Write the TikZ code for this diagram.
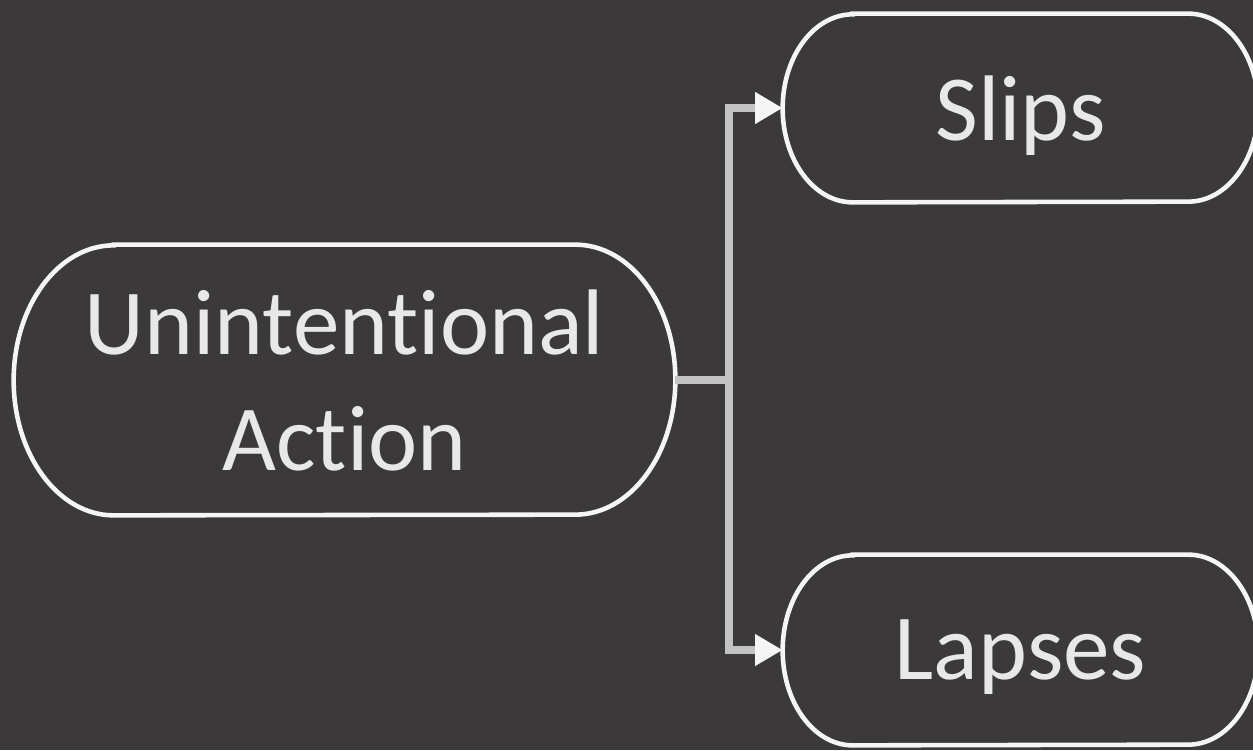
\documentclass[tikz,border=0pt]{standalone}
\usepackage{fontspec}
\setmainfont{Carlito}[Ligatures={NoCommon,NoContextual}]
\usetikzlibrary{positioning,arrows.meta,calc}

\definecolor{bgdark}{RGB}{59,57,58}
\definecolor{edgewhite}{RGB}{245,245,245}
\definecolor{linkgray}{RGB}{195,195,195}
\definecolor{textgray}{RGB}{232,232,232}

% outline of a pill node: #1 node, #2 x radius, #3 y radius
\newcommand{\pillOutline}[3]{%
    \draw [outline] ([xshift=#2]#1.north west) -- ([xshift=-#2]#1.north east)
        arc[start angle=90, end angle=-90, x radius=#2, y radius=#3]
        -- ([xshift=#2]#1.south west)
        arc[start angle=270, end angle=90, x radius=#2, y radius=#3] -- cycle;}

\begin{document}
\begin{tikzpicture}[
        pillbox/.style={draw=none, align=center, text=textgray, inner sep=0pt, text depth=0pt,
            font=\fontsize{53}{66}\selectfont},
        outline/.style={draw=edgewhite, line width=2.6pt},
        link/.style={draw=linkgray, line width=4.5pt},
        arrow/.style={link, -{Triangle[length=0.55cm, width=0.6cm, fill=edgewhite, color=edgewhite]}}
    ]
        % Canvas
        \useasboundingbox (0,0) rectangle (25.06,15);
        \clip (0,0) rectangle (25.06,15);
        \fill [bgdark] (0,0) rectangle (25.06,15);

        % Nodes
        \node (unint) [pillbox, minimum width=13.22cm, minimum height=5.4cm] at (6.89,7.4) {Unintentional\\Action};
        \node (slips) [pillbox, minimum width=9.5cm, minimum height=3.76cm] at (20.41,12.84) {Slips};
        \node (lapses) [pillbox, minimum width=9.5cm, minimum height=3.8cm] at (20.41,2.0) {Lapses};

        \pillOutline{unint}{2.0cm}{2.7cm}
        \pillOutline{slips}{1.4cm}{1.88cm}
        \pillOutline{lapses}{1.4cm}{1.9cm}

        % Connectors
        \draw [link] (unint.east) -- ++(1.08,0) coordinate (fork);
        \draw [arrow] (fork) |- (slips.west);
        \draw [arrow] (fork) |- (lapses.west);

    \end{tikzpicture}
\end{document}
